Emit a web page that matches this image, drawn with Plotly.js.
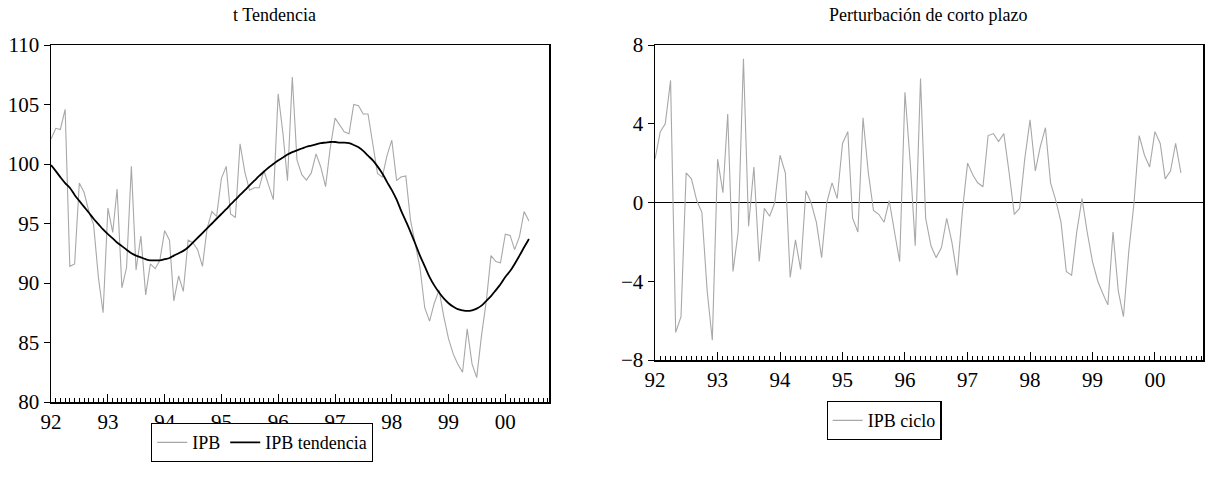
<!DOCTYPE html>
<html>
<head>
<meta charset="utf-8">
<script src="https://cdn.plot.ly/plotly-3.0.1.min.js"></script>
<style>html,body{margin:0;padding:0;background:#fff}#chart{width:1210px;height:477px}</style>
</head>
<body>
<div id="chart"></div>
<script>
// Monthly observations, January 1992 to June 2000
const startYear = 1992;
const nMonths = 102;

const ipb = [
  102.1, 103.0, 102.9, 104.6, 91.4, 91.6, 98.4, 97.6, 96.0, 94.9, 90.45, 87.5,
  96.3, 94.25, 97.9, 89.6, 91.3, 99.8, 91.1, 93.95, 89.0, 91.6, 91.2, 91.9,
  94.4, 93.6, 88.5, 90.6, 89.3, 93.6, 93.4, 92.8, 91.4, 94.6, 96.0, 95.6,
  98.8, 99.8, 95.8, 95.5, 101.7, 99.3, 97.8, 98.0, 98.0, 99.45, 98.2, 97.0,
  105.9, 102.55, 98.6, 107.3, 100.35, 99.1, 98.65, 99.25, 100.85, 99.75, 98.1, 101.35,
  103.85, 103.2, 102.7, 102.55, 105.0, 104.9, 104.2, 104.2, 101.8, 99.2, 98.9, 100.7,
  102.0, 98.6, 98.9, 99.0, 95.3, 93.4, 91.3, 87.9, 86.8, 88.3, 89.4, 87.2,
  85.3, 84.0, 83.2, 82.5, 86.15, 83.2, 82.05, 85.6, 88.5, 92.3, 91.8, 91.7,
  94.1, 94.0, 92.8, 93.9, 96.0, 95.2
];

const ipbTendencia = [
  99.9, 99.4, 98.9, 98.4, 98.0, 97.4, 96.9, 96.4, 95.9, 95.4, 94.95, 94.5,
  94.1, 93.75, 93.4, 93.1, 92.8, 92.5, 92.3, 92.15, 92.0, 91.9, 91.9, 91.9,
  92.0, 92.1, 92.3, 92.5, 92.7, 93.0, 93.4, 93.8, 94.2, 94.6, 95.0, 95.4,
  95.8, 96.2, 96.6, 97.0, 97.4, 97.8, 98.2, 98.6, 99.0, 99.35, 99.7, 100.0,
  100.3, 100.55, 100.8, 101.0, 101.15, 101.3, 101.45, 101.55, 101.65, 101.75, 101.8, 101.85,
  101.85, 101.8, 101.8, 101.75, 101.6, 101.4, 101.1, 100.7, 100.3, 99.8, 99.2, 98.5,
  97.8, 97.0, 96.1, 95.2, 94.3, 93.3, 92.3, 91.4, 90.5, 89.8, 89.2, 88.7,
  88.3, 88.0, 87.8, 87.7, 87.65, 87.7, 87.85, 88.1, 88.5, 88.9, 89.4, 89.9,
  90.5, 91.0, 91.6, 92.3, 93.0, 93.7
];

const ipbCiclo = [
  2.2, 3.6, 4.0, 6.2, -6.6, -5.8, 1.5, 1.2, 0.1, -0.5, -4.5, -7.0,
  2.2, 0.5, 4.5, -3.5, -1.5, 7.3, -1.2, 1.8, -3.0, -0.3, -0.7, 0.0,
  2.4, 1.5, -3.8, -1.9, -3.4, 0.6, 0.0, -1.0, -2.8, 0.0, 1.0, 0.2,
  3.0, 3.6, -0.8, -1.5, 4.3, 1.5, -0.4, -0.6, -1.0, 0.1, -1.5, -3.0,
  5.6, 2.0, -2.2, 6.3, -0.8, -2.2, -2.8, -2.3, -0.8, -2.0, -3.7, -0.5,
  2.0, 1.4, 1.0, 0.8, 3.4, 3.5, 3.1, 3.5, 1.5, -0.6, -0.3, 2.2,
  4.2, 1.6, 2.8, 3.8, 1.0, 0.1, -1.0, -3.5, -3.7, -1.5, 0.2, -1.5,
  -3.0, -4.0, -4.6, -5.2, -1.5, -4.5, -5.8, -2.5, 0.0, 3.4, 2.4, 1.8,
  3.6, 3.0, 1.2, 1.6, 3.0, 1.5
];

const yearTickVals = ['1992-01-01','1993-01-01','1994-01-01','1995-01-01','1996-01-01','1997-01-01','1998-01-01','1999-01-01','2000-01-01'];
const yearTickText = ['92','93','94','95','96','97','98','99','00'];
const leftYTicks = [80, 85, 90, 95, 100, 105, 110];
const rightYTicks = [-8, -4, 0, 4, 8];

const leftTitle = 't Tendencia';
const rightTitle = 'Perturbación de corto plazo';

function pad(n){ return (n < 10 ? '0' : '') + n; }
const dates = [];
for (let i = 0; i < nMonths; i++) {
  dates.push((startYear + Math.floor(i / 12)) + '-' + pad(i % 12 + 1) + '-01');
}

const FONT = 'Liberation Serif, Times New Roman, serif';
const W = 1210, H = 477;
const px = v => v / W;
const py = v => 1 - v / H;

function xax(domain, anchor) {
  return {
    type: 'date', domain: domain, anchor: anchor,
    range: ['1992-01-01', '2000-10-08'],
    tickmode: 'array', tickvals: yearTickVals, ticktext: yearTickText,
    ticks: 'inside', ticklen: 8, tickwidth: 1, tickcolor: '#000',
    minor: { dtick: 'M1', tick0: '1992-01-01', ticks: 'inside', ticklen: 4, tickwidth: 1, tickcolor: '#000', showgrid: false },
    showline: true, linecolor: '#000', linewidth: 1.5, mirror: true,
    showgrid: false, zeroline: false, automargin: false,
    tickfont: { family: FONT, size: 21, color: '#000' }
  };
}
function yax(domain, anchor, range, vals) {
  return {
    domain: domain, anchor: anchor, range: range,
    tickmode: 'array', tickvals: vals,
    ticks: 'outside', ticklen: 6, tickwidth: 1, tickcolor: '#000',
    showline: true, linecolor: '#000', linewidth: 1.5, mirror: true,
    showgrid: false, zeroline: false, automargin: false,
    tickfont: { family: FONT, size: 21, color: '#000' }
  };
}

const traces = [
  { x: dates, y: ipb, type: 'scatter', mode: 'lines', name: 'IPB',
    line: { color: '#a8a8a8', width: 1.1, dash: 'solid' }, xaxis: 'x', yaxis: 'y', legend: 'legend' },
  { x: dates, y: ipbTendencia, type: 'scatter', mode: 'lines', name: 'IPB tendencia',
    line: { color: '#000', width: 1.8, shape: 'spline' }, xaxis: 'x', yaxis: 'y', legend: 'legend' },
  { x: dates, y: ipbCiclo, type: 'scatter', mode: 'lines', name: 'IPB ciclo',
    line: { color: '#a8a8a8', width: 1.1 }, xaxis: 'x2', yaxis: 'y2', legend: 'legend2' }
];

const legendStyle = {
  orientation: 'h', xanchor: 'center', yanchor: 'top',
  bordercolor: '#000', borderwidth: 1.2, bgcolor: '#fff',
  font: { family: FONT, size: 18, color: '#000' },
  itemwidth: 30, tracegroupgap: 0
};

const layout = {
  width: W, height: H,
  margin: { l: 0, r: 0, t: 0, b: 0 },
  paper_bgcolor: '#fff', plot_bgcolor: '#fff',
  font: { family: FONT, color: '#000' },
  xaxis: xax([px(51), px(549)], 'y'),
  yaxis: yax([py(402), py(45)], 'x', [80, 110], leftYTicks),
  xaxis2: xax([px(655), px(1203)], 'y2'),
  yaxis2: Object.assign(yax([py(360), py(45)], 'x2', [-8, 8], rightYTicks),
    { zeroline: true, zerolinecolor: '#000', zerolinewidth: 1.2 }),
  legend: Object.assign({}, legendStyle, { x: px(262), y: py(423) }),
  legend2: Object.assign({}, legendStyle, { x: px(884), y: py(401) }),
  showlegend: true,
  annotations: [
    { text: leftTitle, xref: 'paper', yref: 'paper', x: px(274), y: py(15), xanchor: 'center', yanchor: 'middle',
      showarrow: false, font: { family: FONT, size: 18, color: '#000' } },
    { text: rightTitle, xref: 'paper', yref: 'paper', x: px(928), y: py(15), xanchor: 'center', yanchor: 'middle',
      showarrow: false, font: { family: FONT, size: 18, color: '#000' } }
  ]
};

Plotly.newPlot('chart', traces, layout, { displayModeBar: false, staticPlot: true });
</script>
</body>
</html>
